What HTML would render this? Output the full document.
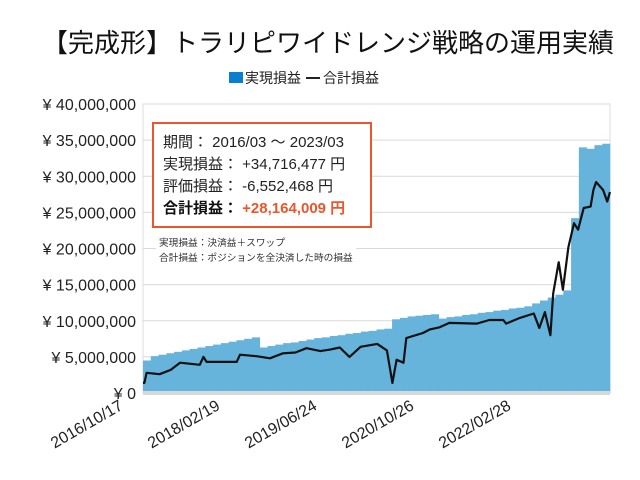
<!DOCTYPE html>
<html><head><meta charset="utf-8">
<style>
body{margin:0;background:#fff;}
svg{display:block;font-family:"Liberation Sans","Noto Sans CJK JP",sans-serif;}
</style></head>
<body>
<svg id="chart" width="640" height="480" viewBox="0 0 640 480">
<text x="328" y="52" text-anchor="middle" font-size="26" fill="#111">【完成形】トラリピワイドレンジ戦略の運用実績</text>
<g>
<rect x="229" y="72" width="14" height="11" fill="#0a7fd0"/>
<text x="245" y="83" font-size="14" fill="#222">実現損益</text>
<line x1="306" y1="78" x2="320" y2="78" stroke="#222" stroke-width="2"/>
<text x="323" y="83" font-size="14" fill="#222">合計損益</text>
</g>
<rect x="143" y="104" width="467" height="289" fill="none" stroke="#ddd"/>
<g id="grid"></g>
<g id="yaxis"></g>
<g id="bars"></g>
<rect x="143" y="391" width="467" height="4" fill="#d8d8d8"/>
<path id="line" fill="none" stroke="#111" stroke-width="2.2" stroke-linejoin="round"/>
<g id="xaxis"></g>
<g>
<rect x="153" y="123" width="218" height="104" fill="#fff" stroke="#e8582c" stroke-width="2"/>
<text x="163" y="147" font-size="15" fill="#222">期間： 2016/03 ～ 2023/03</text>
<text x="163" y="169" font-size="15" fill="#222">実現損益： +34,716,477 円</text>
<text x="163" y="191" font-size="15" fill="#222">評価損益： -6,552,468 円</text>
<text x="163" y="213" font-size="15" fill="#111" font-weight="bold">合計損益： <tspan fill="#e8582c">+28,164,009 円</tspan></text>
</g>
<rect x="156" y="234" width="200" height="32" fill="#fff"/>
<text x="159" y="246" font-size="9.7" fill="#333">実現損益：決済益＋スワップ</text>
<text x="159" y="261" font-size="9.7" fill="#333">合計損益：ポジションを全決済した時の損益</text>
</svg>
<script>
const yTicks=[0,5,10,15,20,25,30,35,40];
const yTickLabels=["¥ 0","¥ 5,000,000","¥ 10,000,000","¥ 15,000,000","¥ 20,000,000","¥ 25,000,000","¥ 30,000,000","¥ 35,000,000","¥ 40,000,000"];
const xTickWeeks=[0,70,140,210,280];
const xTickLabels=["2016/10/17","2018/02/19","2019/06/24","2020/10/26","2022/02/28"];
const realized=[4.5,5.1,5.3,5.5,5.7,5.9,6.1,6.3,6.5,6.7,6.9,7.1,7.3,7.5,7.7,6.3,6.5,6.7,6.9,7.0,7.2,7.4,7.6,7.7,7.9,8.0,8.2,8.3,8.5,8.6,8.8,8.9,10.2,10.4,10.6,10.7,10.8,10.9,10.3,10.5,10.6,10.8,10.9,11.1,11.2,11.4,11.5,11.7,11.8,12.0,12.4,12.8,13.2,13.6,14.2,24.2,34.0,33.8,34.3,34.5];
const totalWeeks=[0,1,2.6,12,20,26.7,41,43.6,45.9,67.6,70,82,91.6,101,110,118,128,135,142,149,157,169,176,180,183,188,190,202,207,214,221,241,250,260,262,272,282,286,290,294,296,300,303,307,311,314,318,323,325,327,332,335,337];
const totalValues=[1.4,1.4,2.8,2.6,3.2,4.2,3.9,5.0,4.3,4.3,5.3,5.1,4.8,5.5,5.6,6.2,5.8,6.0,6.3,5.0,6.4,6.8,5.9,1.4,4.6,4.2,7.6,8.3,8.8,9.1,9.7,9.6,10.1,10.1,9.6,10.4,11.0,9.0,11.2,8.0,13.8,18.1,14.3,20.2,23.5,22.6,25.6,25.8,28.1,29.2,28.1,26.5,27.8];
const NS="http://www.w3.org/2000/svg";
const L=143,R=610,T=104,B=393,maxW=337,maxV=40;
const xs=w=>L+(R-L)*w/maxW;
const ys=v=>B-(B-T)*v/maxV;
const grid=document.getElementById('grid'),ya=document.getElementById('yaxis');
yTicks.forEach((t,i)=>{
 const l=document.createElementNS(NS,'line');
 l.setAttribute('x1',L);l.setAttribute('x2',R);l.setAttribute('y1',ys(t));l.setAttribute('y2',ys(t));
 l.setAttribute('stroke','#d9d9d9');
 
 
 grid.appendChild(l);
 const tx=document.createElementNS(NS,'text');
 tx.setAttribute('x',136);tx.setAttribute('y',ys(t)+6);tx.setAttribute('text-anchor','end');
 tx.setAttribute('font-size','16');tx.setAttribute('fill','#222');tx.textContent=yTickLabels[i];
 
 
 ya.appendChild(tx);
});
const bars=document.getElementById('bars');
const bw=(R-L)/realized.length;
realized.forEach((v,i)=>{
 const r=document.createElementNS(NS,'rect');
 r.setAttribute('x',L+i*bw);r.setAttribute('width',bw+0.3);
 r.setAttribute('y',ys(v));r.setAttribute('height',B-ys(v));
 r.setAttribute('fill','#66b3db');
 
 
 bars.appendChild(r);
});
let d='';
totalWeeks.forEach((w,i)=>{d+=(i?'L':'M')+xs(w).toFixed(1)+' '+ys(totalValues[i]).toFixed(1);});
document.getElementById('line').setAttribute('d',d);
const xa=document.getElementById('xaxis');
xTickWeeks.forEach((w,i)=>{
 const tx=document.createElementNS(NS,'text');
 const x=xs(w)-24,y=400;
 tx.setAttribute('x',x);tx.setAttribute('y',y+10);tx.setAttribute('text-anchor','end');
 tx.setAttribute('font-size','16');tx.setAttribute('fill','#222');
 tx.setAttribute('transform','rotate(-30 '+x+' '+y+')');
 tx.textContent=xTickLabels[i];
 
 
 xa.appendChild(tx);
});
</script>
</body></html>
